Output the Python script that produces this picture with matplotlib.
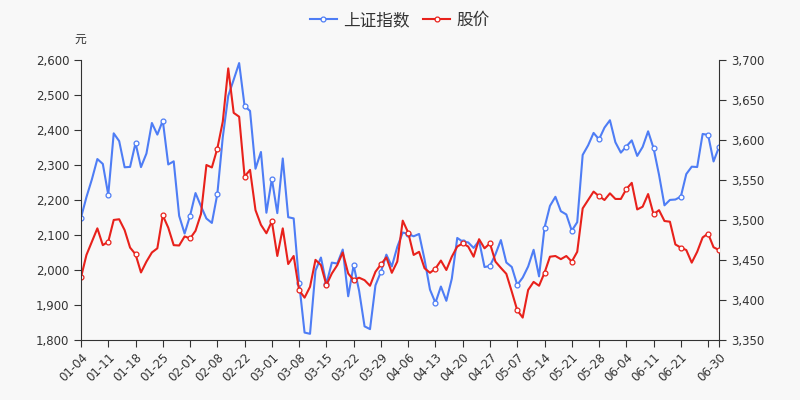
import matplotlib
matplotlib.use('Agg')
import matplotlib.pyplot as plt
from matplotlib.ticker import FuncFormatter, MultipleLocator

plt.rcParams['font.family'] = ['DejaVu Sans', 'Noto Sans CJK SC']

# trading days, first half of 2021
dates = ['01-04', '01-05', '01-06', '01-07', '01-08', '01-11', '01-12', '01-13', '01-14', '01-15',
         '01-18', '01-19', '01-20', '01-21', '01-22', '01-25', '01-26', '01-27', '01-28', '01-29',
         '02-01', '02-02', '02-03', '02-04', '02-05', '02-08', '02-09', '02-10', '02-18', '02-19',
         '02-22', '02-23', '02-24', '02-25', '02-26', '03-01', '03-02', '03-03', '03-04', '03-05',
         '03-08', '03-09', '03-10', '03-11', '03-12', '03-15', '03-16', '03-17', '03-18', '03-19',
         '03-22', '03-23', '03-24', '03-25', '03-26', '03-29', '03-30', '03-31', '04-01', '04-02',
         '04-06', '04-07', '04-08', '04-09', '04-12', '04-13', '04-14', '04-15', '04-16', '04-19',
         '04-20', '04-21', '04-22', '04-23', '04-26', '04-27', '04-28', '04-29', '04-30', '05-06',
         '05-07', '05-10', '05-11', '05-12', '05-13', '05-14', '05-17', '05-18', '05-19', '05-20',
         '05-21', '05-24', '05-25', '05-26', '05-27', '05-28', '05-31', '06-01', '06-02', '06-03',
         '06-04', '06-07', '06-08', '06-09', '06-10', '06-11', '06-15', '06-16', '06-17', '06-18',
         '06-21', '06-22', '06-23', '06-24', '06-25', '06-28', '06-29', '06-30']

# 上证指数 (right axis)
sh_index = [3502.96, 3528.68, 3550.88, 3576.20, 3570.11, 3531.50, 3608.34, 3598.65, 3565.90, 3566.38,
            3596.22, 3566.12, 3583.09, 3621.26, 3606.75, 3624.24, 3569.43, 3573.34, 3505.18, 3483.07,
            3505.31, 3533.68, 3517.31, 3501.86, 3496.33, 3532.44, 3603.49, 3655.09, 3675.36, 3696.17,
            3642.44, 3636.36, 3564.08, 3585.05, 3509.08, 3551.40, 3508.59, 3576.90, 3503.49, 3501.99,
            3421.41, 3359.29, 3357.74, 3436.83, 3453.08, 3419.95, 3446.73, 3445.55, 3463.07, 3404.66,
            3443.44, 3411.51, 3367.06, 3363.59, 3418.33, 3435.30, 3456.68, 3441.91, 3466.33, 3484.39,
            3482.48, 3479.63, 3482.55, 3450.68, 3412.95, 3396.47, 3416.84, 3398.99, 3426.62, 3477.55,
            3472.94, 3472.00, 3465.11, 3474.17, 3441.17, 3442.61, 3457.07, 3474.90, 3446.86, 3441.28,
            3418.87, 3427.99, 3441.85, 3462.75, 3429.54, 3490.38, 3517.62, 3529.01, 3510.96, 3506.94,
            3486.56, 3497.28, 3581.34, 3593.36, 3608.85, 3600.78, 3615.48, 3624.71, 3597.14, 3584.22,
            3591.84, 3599.54, 3580.11, 3591.40, 3610.86, 3589.75, 3556.56, 3518.33, 3525.10, 3525.60,
            3529.18, 3557.41, 3566.65, 3566.22, 3607.56, 3606.37, 3573.18, 3591.20]

# 股价 (left axis, 元)
price = [1979, 2043, 2081, 2119, 2071, 2081, 2143, 2145, 2114, 2064,
         2045, 1993, 2024, 2050, 2062, 2156, 2121, 2071, 2070, 2096,
         2090, 2112, 2160, 2300, 2293, 2347, 2424, 2576, 2449, 2438,
         2267, 2286, 2171, 2129, 2105, 2139, 2040, 2119, 2017, 2040,
         1942, 1921, 1952, 2029, 2014, 1957, 1990, 2014, 2050, 1990,
         1971, 1978, 1971, 1955, 1995, 2016, 2036, 1992, 2024, 2141,
         2107, 2043, 2052, 2005, 1992, 2004, 2027, 2000, 2038, 2067,
         2076, 2067, 2038, 2088, 2062, 2076, 2024, 2006, 1989, 1938,
         1885, 1864, 1943, 1966, 1955, 1992, 2038, 2040, 2031, 2040,
         2024, 2052, 2176, 2200, 2224, 2211, 2200, 2219, 2203, 2203,
         2231, 2249, 2173, 2181, 2217, 2159, 2171, 2140, 2138, 2073,
         2064, 2057, 2021, 2052, 2093, 2104, 2065, 2057]

bg = '#f8f8f8'
blue = '#4e7df5'
red = '#e8211b'
axc = '#333333'

x = list(range(len(dates)))
marks = list(range(0, len(dates), 5)) + [len(dates) - 1]

fig = plt.figure(figsize=(8, 4), dpi=100, facecolor=bg)
ax = fig.add_axes([0.10125, 0.15, 0.7975, 0.70])
ax2 = ax.twinx()
ax.set_facecolor('none')
ax2.set_facecolor('none')
# price drawn on top of the index
ax.set_zorder(2)
ax2.set_zorder(1)

l1, = ax2.plot(x, sh_index, color=blue, lw=1.5, marker='o', markevery=marks,
               markersize=3.5, markerfacecolor='white', markeredgecolor=blue, markeredgewidth=0.9)
l2, = ax.plot(x, price, color=red, lw=1.5, marker='o', markevery=marks,
              markersize=3.5, markerfacecolor='white', markeredgecolor=red, markeredgewidth=0.9)

ax.set_xlim(0, len(dates) - 1)
ax.set_ylim(1800, 2600)
ax2.set_ylim(3350, 3700)
ax.yaxis.set_major_locator(MultipleLocator(100))
ax2.yaxis.set_major_locator(MultipleLocator(50))
fmt = FuncFormatter(lambda v, p: '{:,.0f}'.format(v))
ax.yaxis.set_major_formatter(fmt)
ax2.yaxis.set_major_formatter(fmt)

tick_pos = list(range(0, len(dates), 5)) + [len(dates) - 1]
tick_lab = [dates[i] if (i <= 110 or i == len(dates) - 1) else '' for i in tick_pos]
ax.set_xticks(tick_pos)
ax.set_xticklabels(tick_lab, rotation=45, ha='right', rotation_mode='anchor')

for a in (ax, ax2):
    a.spines['top'].set_visible(False)
    for s in ('left', 'right', 'bottom'):
        a.spines[s].set_color(axc)
    a.tick_params(colors=axc, labelsize=8.5, length=5, width=0.8)
ax.spines['right'].set_visible(False)
ax2.spines['left'].set_visible(False)
ax2.spines['bottom'].set_visible(False)
ax.tick_params(axis='x', pad=3)

fig.text(0.1, 0.893, '元', fontsize=8.5, color=axc, ha='center')

fig.legend([l1, l2], ['上证指数', '股价'], loc='upper center', bbox_to_anchor=(0.5, 1.01),
           ncol=2, frameon=False, fontsize=12, handlelength=1.6, handletextpad=0.4,
           columnspacing=0.8, labelcolor=axc)

fig.savefig('out.png', dpi=100, facecolor=bg)
